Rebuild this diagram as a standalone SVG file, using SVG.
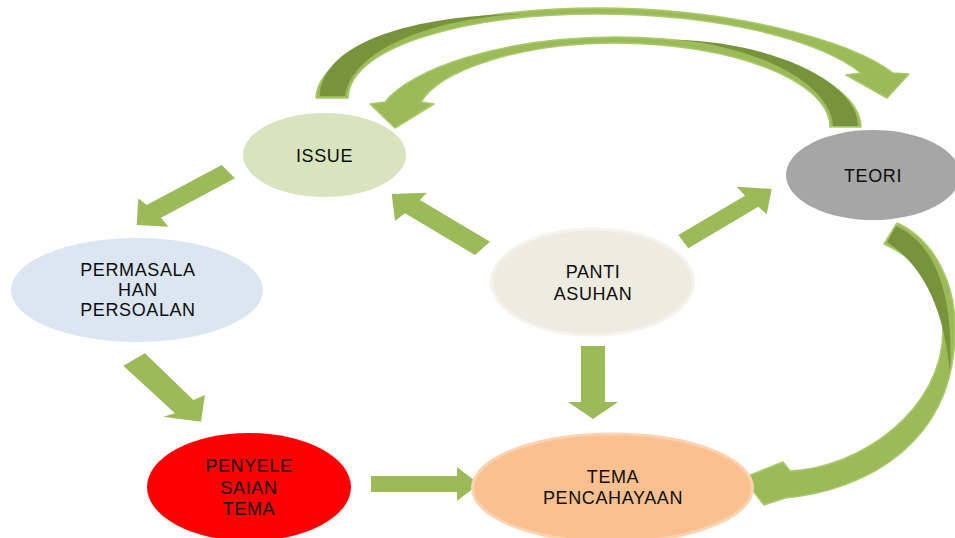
<svg xmlns="http://www.w3.org/2000/svg" width="955" height="538" viewBox="0 0 955 538">
<style>
.lbl{font-family:"Liberation Sans",Arial,sans-serif;font-size:18px;fill:#0d0d0d;text-anchor:middle;letter-spacing:0.6px}
.arr{fill:#9bbb59}
.carr{fill:#9bbb59;stroke:#a9c96a;stroke-width:1.5;stroke-linejoin:round}
.dark{fill:#77933c;stroke:none}
</style>
<rect width="955" height="538" fill="#ffffff"/>
<g id="connectors">
  <!-- ISSUE -> TEORI (outer curved) -->
  <g id="c-issue-teori">
    <path class="carr" d="M316,98 C318,40 470,8 597,8 C730,8 850,40 893,73 L909,74 L887,98 L846,75 L861,73 C820,40 720,14 597,14 C470,14 350,45 348,98 Z"/>
    <path class="dark" d="M320,96 C321,44 410,15 521,14 C430,19 352,50 345,96 Z"/>
  </g>
  <!-- TEORI -> ISSUE (inner curved) -->
  <g id="c-teori-issue">
    <path class="carr" d="M861,127 C860,75 740,37 616,37 C500,37 410,70 385,102 L370,104 L395,128 L434,104 L421,102 C440,70 520,43 616,43 C730,43 830,80 830,127 Z"/>
    <path class="dark" d="M858,126 C857,78 762,41 676,40 C762,47 832,86 833,126 Z"/>
  </g>
  <!-- TEORI -> TEMA (right curved) -->
  <g id="c-teori-tema">
    <path class="carr" d="M897,223 C935,240 956,285 955,330 C955,440 870,490 785,498 L764,505 L743,478 L783,462 L790,471 C860,468 943,410 943,330 C943,290 920,260 884,244 Z"/>
    <path class="dark" d="M896,226 C934,243 954,292 950,372 C944,310 924,266 887,242 Z"/>
  </g>
  <!-- ISSUE -> PERMASALAHAN -->
  <polygon class="arr" points="221.7,165 235,178.3 161,217.7 168.3,226.7 136.7,225 138.3,198.3 146.7,205"/>
  <!-- PANTI -> ISSUE -->
  <polygon class="arr" points="391.7,194 426.7,192.7 420,200 490,241.7 475,255 405,213.3 395,220.7"/>
  <!-- PANTI -> TEORI -->
  <polygon class="arr" points="678.3,235 745,195.7 736.7,186.7 771.7,189 766.7,214.3 758.3,206.7 688.3,248.3"/>
  <!-- PERMASALAHAN -> PENYELESAIAN -->
  <polygon class="arr" points="145,353.3 193.3,400 205,395 201,421.7 163.3,416.7 175,413.3 123.3,365.7"/>
  <!-- PANTI -> TEMA -->
  <polygon class="arr" points="581,346 605,346 605,402 618,402 593,419 568,402 581,402"/>
  <!-- PENYELESAIAN -> TEMA -->
  <polygon class="arr" points="371,476 457,476 457,467 479,484 457,501 457,492 371,492"/>
</g>
<g id="node-issue">
  <ellipse cx="324.5" cy="155" rx="81.5" ry="42" fill="#d7e4bd"/>
  <text class="lbl" x="324.5" y="161.5">ISSUE</text>
</g>
<g id="node-teori">
  <ellipse cx="873" cy="175" rx="87" ry="45" fill="#a6a6a6"/>
  <text class="lbl" x="873" y="182">TEORI</text>
</g>
<g id="node-permasalahan">
  <ellipse cx="137" cy="290" rx="126" ry="52" fill="#dce6f2"/>
  <text class="lbl" x="138" y="276">PERMASALA</text>
  <text class="lbl" x="138" y="296">HAN</text>
  <text class="lbl" x="138" y="316">PERSOALAN</text>
</g>
<g id="node-panti">
  <ellipse cx="592.5" cy="282" rx="101" ry="53" fill="#eeece1" stroke="#f4f3ee" stroke-width="3"/>
  <text class="lbl" x="593" y="278">PANTI</text>
  <text class="lbl" x="593" y="300">ASUHAN</text>
</g>
<g id="node-penyelesaian">
  <ellipse cx="249" cy="487" rx="102" ry="54" fill="#ff0000"/>
  <text class="lbl" x="249" y="472">PENYELE</text>
  <text class="lbl" x="249" y="494">SAIAN</text>
  <text class="lbl" x="249" y="515">TEMA</text>
</g>
<g id="node-tema">
  <ellipse cx="612.5" cy="488" rx="140" ry="54" fill="#fac090" stroke="#fbd3b0" stroke-width="3"/>
  <text class="lbl" x="613" y="483">TEMA</text>
  <text class="lbl" x="613" y="504">PENCAHAYAAN</text>
</g>
</svg>
